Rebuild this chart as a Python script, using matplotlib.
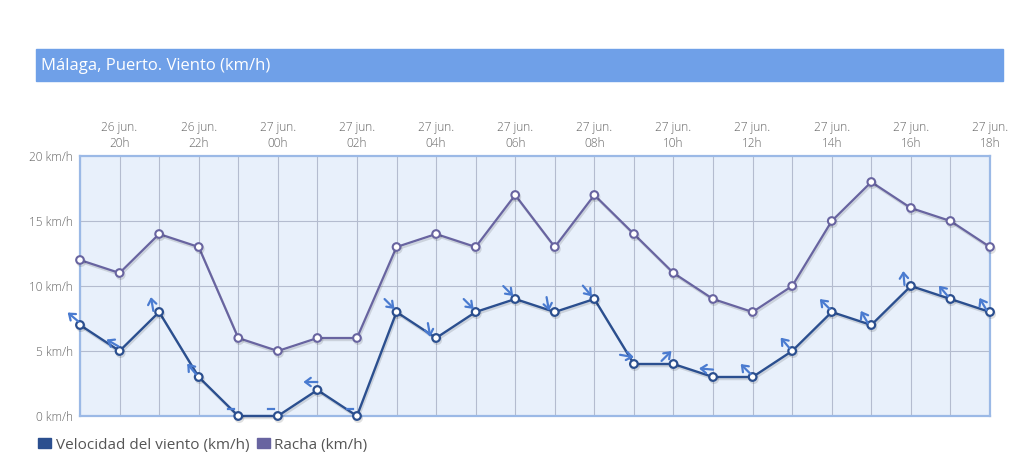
import matplotlib
matplotlib.use("Agg")
import matplotlib.pyplot as plt
import matplotlib.patheffects as pe
from matplotlib.patches import FancyArrowPatch, Rectangle
import numpy as np

# hourly observations, 26 jun. 19h -> 27 jun. 18h
days = ["26 jun."] * 5 + ["27 jun."] * 19
hours = ["19h", "20h", "21h", "22h", "23h", "00h", "01h", "02h", "03h", "04h",
         "05h", "06h", "07h", "08h", "09h", "10h", "11h", "12h", "13h", "14h",
         "15h", "16h", "17h", "18h"]
wind = [7, 5, 8, 3, 0, 0, 2, 0, 8, 6, 8, 9, 8, 9, 4, 4, 3, 3, 5, 8, 7, 10, 9, 8]
gust = [12, 11, 14, 13, 6, 5, 6, 6, 13, 14, 13, 17, 13, 17, 14, 11, 9, 8, 10, 15,
        18, 16, 15, 13]
# direction the arrow points (deg, clockwise from up); None = calm
arrow_dir = [310, 300, 350, 320, None, None, 270, None, 135, 170, 135, 135, 170,
             140, 100, 45, 275, 315, 320, 315, 330, 355, 320, 330]

title = "Málaga, Puerto. Viento (km/h)"
yticks = [0, 5, 10, 15, 20]
ylabels = [f"{v} km/h" for v in yticks]

C_WIND = "#2b4f8f"
C_GUST = "#6864a0"
C_ARROW = "#4a7bd0"
C_TXT = "#666666"
FONT = ["Open Sans", "DejaVu Sans"]
plt.rcParams["font.family"] = FONT

W, H = 1028, 470
fig = plt.figure(figsize=(W / 100, H / 100), dpi=100)
fig.patch.set_facecolor("white")

# title band
fig.patches.append(Rectangle((36 / W, 1 - 81 / H), (1003 - 36) / W, 32 / H,
                             transform=fig.transFigure, color="#6fa0e8", zorder=0))
fig.text(41 / W, 1 - 66 / H, title, color="white", fontsize=12, va="center", ha="left")

ax = fig.add_axes([80 / W, 1 - 416 / H, (990 - 80) / W, (416 - 156) / H])
ax.set_facecolor("#e8f0fb")
x = np.arange(len(hours))
ax.set_xlim(0, len(hours) - 1)
ax.set_ylim(0, 20)

for xv in x:
    ax.axvline(xv, color="#b4bccf", lw=0.8, zorder=1)
for yv in yticks[1:-1]:
    ax.axhline(yv, color="#b4bccf", lw=0.8, zorder=1)
for s in ax.spines.values():
    s.set_color("#9bb9e6")
    s.set_linewidth(1.6)

shadow = [pe.SimpleLineShadow(offset=(0.8, -1.5), alpha=0.12), pe.Normal()]
ax.plot(x, gust, color=C_GUST, lw=1.6, marker="o", ms=5.5, mfc="white", mec=C_GUST,
        mew=1.5, zorder=3, clip_on=False, path_effects=shadow)
ax.plot(x, wind, color=C_WIND, lw=1.7, marker="o", ms=5.5, mfc="white", mec=C_WIND,
        mew=1.6, zorder=4, clip_on=False, path_effects=shadow)

ax.set_yticks(yticks)
ax.set_yticklabels(ylabels)
top_idx = list(range(1, len(hours), 2))
ax.xaxis.tick_top()
ax.set_xticks(top_idx)
ax.set_xticklabels([f"{days[i]}\n{hours[i]}" for i in top_idx], linespacing=1.3)
ax.tick_params(axis="both", length=0, colors=C_TXT, labelsize=8.6)
ax.tick_params(axis="x", pad=4)
ax.tick_params(axis="y", pad=5)
for lbl in ax.get_xticklabels() + ax.get_yticklabels():
    lbl.set_fontweight("light")

# wind direction arrows, drawn in pixel space next to each point
pts = ax.transData.transform(np.column_stack([x, wind]))
for (px, py), d in zip(pts, arrow_dir):
    cx, cy = px - 7, py + 8
    if d is None:
        fig.add_artist(plt.Line2D([cx - 3, cx + 3], [cy - 1, cy - 1],
                                  transform=None, color=C_ARROW, lw=1.6))
        continue
    v = np.array([np.sin(np.radians(d)), np.cos(np.radians(d))])
    tail = (cx - 7 * v[0], cy - 7 * v[1])
    tip = (cx + 7 * v[0], cy + 7 * v[1])
    fig.add_artist(FancyArrowPatch(tail, tip, transform=None,
                                   arrowstyle="->,head_length=4,head_width=3",
                                   color=C_ARROW, lw=1.6, shrinkA=0, shrinkB=0, zorder=6))

# legend
handles = [Rectangle((0, 0), 1, 1, color=C_WIND), Rectangle((0, 0), 1, 1, color=C_GUST)]
fig.legend(handles, ["Velocidad del viento (km/h)", "Racha (km/h)"],
           loc="center left", bbox_to_anchor=(38 / W, 1 - 445 / H), ncol=2, frameon=False,
           handlelength=0.85, handleheight=0.6, handletextpad=0.3, columnspacing=0.5,
           fontsize=11, labelcolor="#555555", borderaxespad=0, borderpad=0)

fig.savefig("out.png", dpi=100)
